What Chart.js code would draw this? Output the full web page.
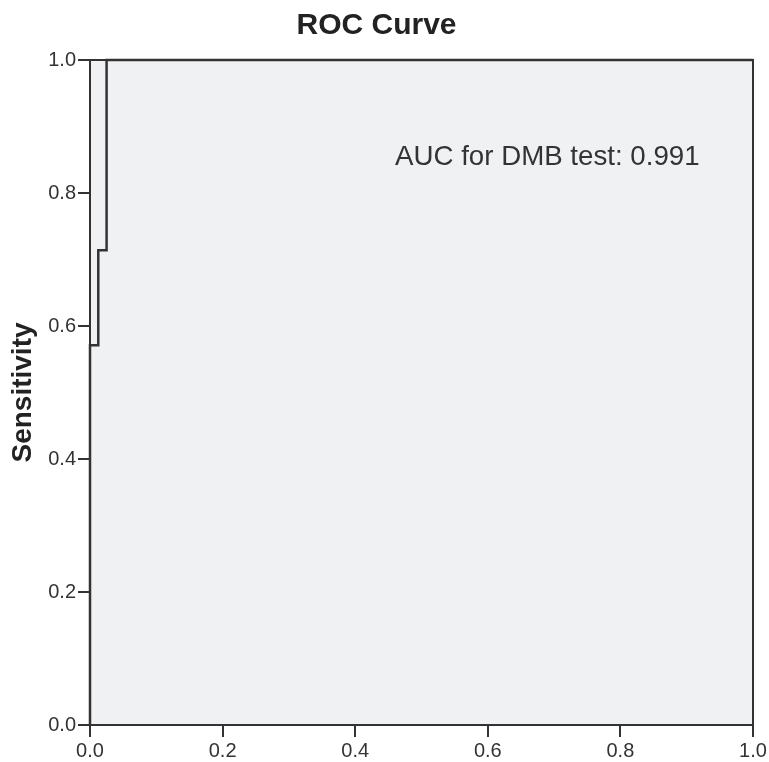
<!DOCTYPE html>
<html>
<head>
<meta charset="utf-8">
<script src="https://cdn.jsdelivr.net/npm/chart.js@4"></script>
<style>
  html, body { margin: 0; padding: 0; background: #fff; }
  #wrap { width: 769px; height: 762px; }
</style>
</head>
<body>
<div id="wrap"><canvas id="roc" width="769" height="762"></canvas></div>
<script>
// ROC points (1 - specificity, sensitivity)
var fpr = [0, 0, 0.0125, 0.0125, 0.025, 0.025, 1];
var tpr = [0, 0.571, 0.571, 0.714, 0.714, 1, 1];
var tickValues = [0, 0.2, 0.4, 0.6, 0.8, 1.0];
var aucText = "AUC for DMB test: 0.991";

var points = [];
fpr.forEach(function(x, i) {
  points.push({ x: x, y: tpr[i] });
});

// grey plot area with a frame, plus the AUC note
var plotBox = {
  id: "plotBox",
  beforeDatasetsDraw: function(chart) {
    var a = chart.chartArea, ctx = chart.ctx;
    ctx.save();
    ctx.fillStyle = "#f0f1f3";
    ctx.fillRect(a.left, a.top, a.right - a.left, a.bottom - a.top);
    ctx.restore();
  },
  afterDraw: function(chart) {
    var a = chart.chartArea, ctx = chart.ctx;
    ctx.save();
    ctx.strokeStyle = "#333";
    ctx.lineWidth = 2;
    ctx.strokeRect(a.left, a.top, a.right - a.left, a.bottom - a.top);
    ctx.fillStyle = "#333";
    ctx.font = "27.7px 'Liberation Sans', Arial, sans-serif";
    ctx.textBaseline = "middle";
    ctx.fillText(aucText, chart.scales.x.getPixelForValue(0.46), chart.scales.y.getPixelForValue(0.853));
    ctx.restore();
  }
};

function axisOpts(extra) {
  var o = {
    type: "linear",
    min: 0,
    max: 1,
    afterBuildTicks: function(scale) {
      scale.ticks = tickValues.map(function(v) { return { value: v }; });
    },
    ticks: {
      color: "#333",
      font: { family: "'Liberation Sans', Arial, sans-serif", size: 20 },
      padding: 2,
      maxRotation: 0,
      callback: function(v) { return Number(v).toFixed(1); }
    },
    grid: {
      drawOnChartArea: false,
      drawTicks: true,
      tickLength: 12,
      color: "#333",
      lineWidth: 2
    },
    border: { display: true, color: "#333", width: 2 }
  };
  for (var k in extra) o[k] = extra[k];
  return o;
}

var ctx = document.getElementById("roc").getContext("2d");
var rocChart = new Chart(ctx, {
  type: "scatter",
  data: {
    datasets: [{
      label: "DMB test",
      data: points,
      showLine: true,
      borderColor: "#333",
      borderWidth: 2.5,
      pointRadius: 0,
      fill: false,
      tension: 0,
      clip: false
    }]
  },
  options: {
    responsive: false,
    animation: false,
    layout: { padding: { left: 0, right: 16, top: 0, bottom: 0 } },
    plugins: {
      legend: { display: false },
      tooltip: { enabled: false },
      title: {
        display: true,
        text: "ROC Curve",
        color: "#222",
        font: { family: "'Liberation Sans', Arial, sans-serif", size: 30, weight: "bold" },
        padding: { top: 8, bottom: 16 }
      }
    },
    scales: {
      x: axisOpts({
        position: "bottom",
        afterFit: function(scale) { scale.height = 37; }
      }),
      y: axisOpts({
        position: "left",
        afterFit: function(scale) { scale.width = 90; },
        title: {
          display: true,
          text: "Sensitivity",
          color: "#222",
          font: { family: "'Liberation Sans', Arial, sans-serif", size: 28, weight: "bold" },
          padding: { top: 6, bottom: 0 }
        }
      })
    }
  },
  plugins: [plotBox]
});
</script>
</body>
</html>
